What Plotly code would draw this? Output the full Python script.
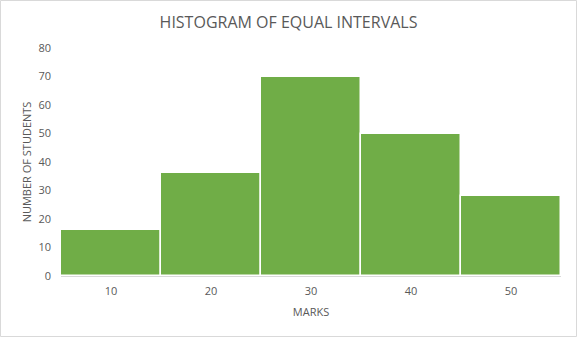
import plotly.graph_objects as go

marks = [10, 20, 30, 40, 50]
students = [16, 36, 70, 50, 28]
y_ticks = [0, 10, 20, 30, 40, 50, 60, 70, 80]

W, H = 577, 337
L, R, T, B = 61, 16, 48, 61
pw, ph = W - L - R, H - T - B

fig = go.Figure(go.Bar(
    x=marks, y=students, width=10,
    marker=dict(color="#70AD47", line=dict(color="white", width=1.5)),
))

font = "Open Sans"
grey = "#595959"
fig.update_layout(
    width=W, height=H,
    margin=dict(l=L, r=R, t=T, b=B),
    paper_bgcolor="white", plot_bgcolor="white",
    showlegend=False,
    title=dict(text="HISTOGRAM OF EQUAL INTERVALS", x=0.5, xanchor="center",
               y=1 - 22 / H, yanchor="middle",
               font=dict(family=font, size=16, color=grey)),
    bargap=0,
    xaxis=dict(range=[5, 55], tickvals=marks, ticktext=[str(m) for m in marks],
               showgrid=False, zeroline=False, showline=True, linecolor="#D9D9D9",
               linewidth=1, ticks="", ticklabelstandoff=5,
               tickfont=dict(family=font, size=11, color=grey),
               title=dict(text="MARKS", standoff=11,
                          font=dict(family=font, size=11, color=grey))),
    yaxis=dict(range=[0, 80], tickvals=y_ticks, showgrid=False, zeroline=False,
               showline=False, ticks="", ticklabelstandoff=9,
               tickfont=dict(family=font, size=11, color=grey),
               title=dict(text="NUMBER OF STUDENTS", standoff=4,
                          font=dict(family=font, size=11, color=grey))),
    shapes=[dict(type="rect", xref="paper", yref="paper",
                 x0=(0.5 - L) / pw, x1=(W - 0.5 - L) / pw,
                 y0=(H - B - (H - 0.5)) / ph, y1=(H - B - 0.5) / ph,
                 line=dict(color="#D9D9D9", width=1), fillcolor="rgba(0,0,0,0)")],
)

fig.write_html("out.html")
